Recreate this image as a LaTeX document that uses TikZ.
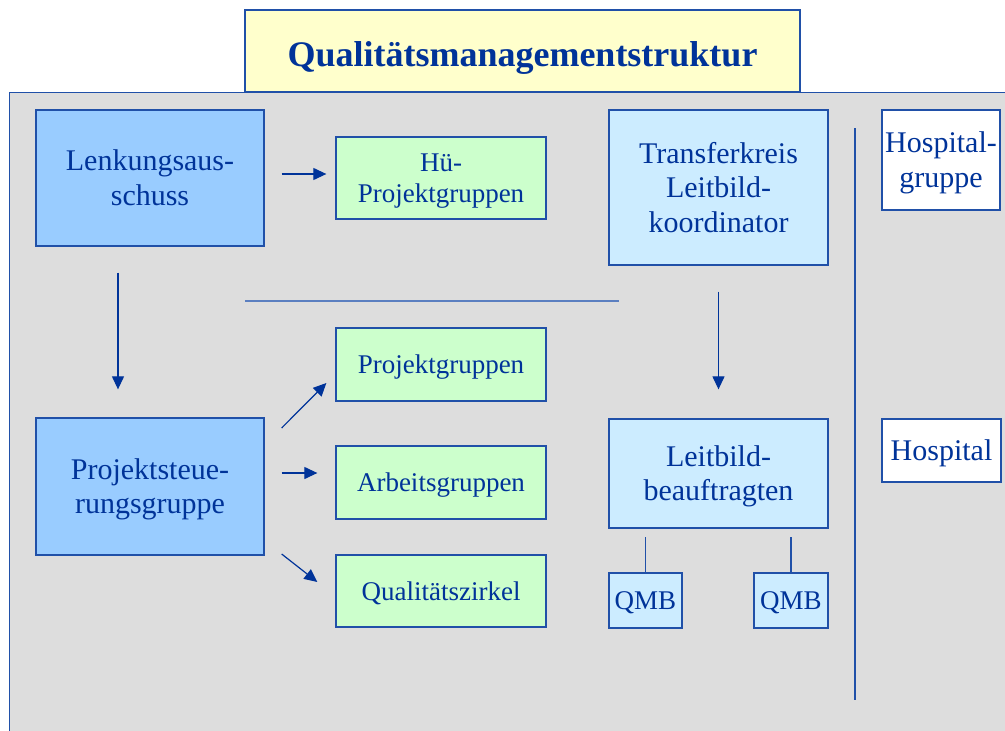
\documentclass[tikz,border=0pt]{standalone}
\usepackage{fontspec}
\setmainfont{Liberation Serif}
\usetikzlibrary{arrows.meta}
\definecolor{txt}{HTML}{003399}
\definecolor{edge}{HTML}{2050A8}
\definecolor{bggray}{HTML}{DDDDDD}
\definecolor{deepblue}{HTML}{99CCFF}
\definecolor{paleblue}{HTML}{CCECFF}
\definecolor{palegreen}{HTML}{CCFFCC}
\definecolor{paleyellow}{HTML}{FFFFCC}
\definecolor{sepline}{HTML}{5B7FC0}
\newcommand\ptop{\rule{0pt}{0.891em}}
\newcommand\pbot{\rule[-0.216em]{0pt}{0pt}}
\tikzset{
  box/.style={draw=edge, line width=1.3pt, text=txt, align=center, inner sep=0pt, anchor=center},
  bigtext/.style={font=\fontsize{30}{34.5}\selectfont},
  smalltext/.style={font=\fontsize{27}{31}\selectfont},
  arr/.style={draw=txt, line width=1.2pt, -{Triangle[length=13pt,width=12pt]}},
  plainline/.style={draw=edge, line width=1.3pt},
}
\begin{document}
\begin{tikzpicture}[x=1pt,y=-1pt]
\useasboundingbox (0,0) rectangle (1005,731);
\fill[white] (0,0) rectangle (1005,731);
\draw[draw=edge, line width=1pt, fill=bggray] (9,92) rectangle (1030,760);
\node[box, fill=paleyellow, minimum width=555pt, minimum height=82pt,
      font=\bfseries\fontsize{36}{41}\selectfont] (title) at (522.5,51) {\rule{0pt}{\dimexpr0.891em+6pt}Qualitätsmanagementstruktur\pbot};

\node[box, bigtext, fill=deepblue, minimum width=228pt, minimum height=136pt] (lenk) at (150,178) {\ptop Lenkungsaus-\\schuss\pbot};
\node[box, smalltext, fill=palegreen, minimum width=210pt, minimum height=82pt] (hue) at (441,178) {\ptop Hü-\\Projektgruppen\pbot};
\node[box, bigtext, fill=paleblue, minimum width=219pt, minimum height=155pt] (trans) at (718.5,187.5) {\ptop Transferkreis\\Leitbild-\\koordinator\pbot};
\node[box, bigtext, fill=white, minimum width=118pt, minimum height=100pt] (hgr) at (941,160) {\ptop Hospital-\\gruppe\pbot};

\node[box, bigtext, fill=deepblue, minimum width=228pt, minimum height=137pt] (psg) at (150,486.5) {\ptop Projektsteue-\\rungsgruppe\pbot};
\node[box, smalltext, fill=palegreen, minimum width=210pt, minimum height=73pt] (pg) at (441,364.5) {\ptop Projektgruppen\pbot};
\node[box, smalltext, fill=palegreen, minimum width=210pt, minimum height=73pt] (ag) at (441,482.5) {\ptop Arbeitsgruppen\pbot};
\node[box, smalltext, fill=palegreen, minimum width=210pt, minimum height=72pt] (qz) at (441,591) {\ptop Qualitätszirkel\pbot};

\node[box, bigtext, fill=paleblue, minimum width=219pt, minimum height=109pt] (lb) at (718.5,473.5) {\ptop Leitbild-\\beauftragten\pbot};
\node[box, smalltext, fill=paleblue, minimum width=73pt, minimum height=55pt] (qmba) at (645.5,600.5) {\ptop QMB\pbot};
\node[box, smalltext, fill=paleblue, minimum width=74pt, minimum height=55pt] (qmbb) at (791,600.5) {\ptop QMB\pbot};
\node[box, bigtext, fill=white, minimum width=119pt, minimum height=63pt] (hosp) at (941.5,450.5) {\ptop Hospital\pbot};

% separators
\draw[sepline, line width=1.3pt] (245,301) -- (619,301);
\draw[plainline, line width=1.6pt] (855,128) -- (855,700);

% arrows
\draw[arr] ([xshift=17pt,yshift=4pt]lenk.east) -- ([xshift=-9pt,yshift=4pt]hue.west);
\draw[arr] ([xshift=-32pt,yshift=-26pt]lenk.south) -- ([xshift=-32pt,yshift=28pt]psg.north);
\draw[arr] ([yshift=-26pt]trans.south) -- ([yshift=29pt]lb.north);
\draw[arr] ([xshift=17pt,yshift=58.5pt]psg.east) -- ([xshift=-9pt,yshift=-18.5pt]pg.west);
\draw[arr] ([xshift=17pt,yshift=13.5pt]psg.east) -- ([xshift=-18pt,yshift=9.5pt]ag.west);
\draw[arr] ([xshift=17pt,yshift=-67.5pt]psg.east) -- ([xshift=-18pt,yshift=9pt]qz.west);

% QMB lines
\draw[plainline] (qmba.north) -- ([yshift=-8pt]lb.south -| qmba.north);
\draw[plainline] (qmbb.north) -- ([yshift=-8pt]lb.south -| qmbb.north);
\end{tikzpicture}
\end{document}
